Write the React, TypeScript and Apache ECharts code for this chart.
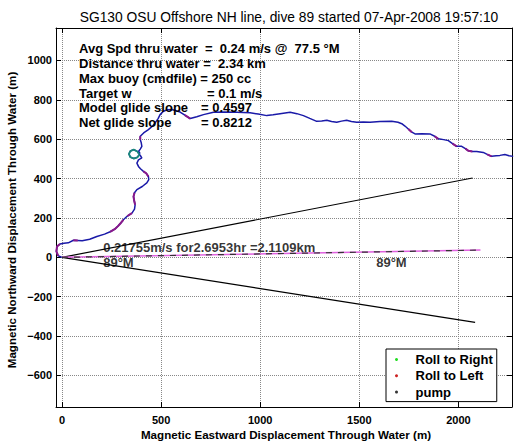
import React, { useEffect, useRef } from "react";
import * as echarts from "echarts";

const FONT = "'Liberation Sans', Arial, Helvetica, sans-serif";

const titleText = "SG130 OSU Offshore NH line, dive 89 started 07-Apr-2008 19:57:10";
const xAxisName = "Magnetic Eastward Displacement Through Water (m)";
const yAxisName = "Magnetic Northward Displacement Through Water (m)";

const xTicks = [0, 500, 1000, 1500, 2000];
const yTicks = [-600, -400, -200, 0, 200, 400, 600, 800, 1000];
const xRange = [-30, 2270];
const yRange = [-760, 1165];

// glider track (m east, m north)
const track: [number, number][] = [
  [0, 0], [-19, 8], [-28, 30], [-25, 55], [-10, 68], [10, 72], [32, 74], [58, 87], [80, 86], [102, 84],
  [140, 92], [176, 106], [215, 118], [243, 130], [266, 143], [284, 160], [298, 176], [310, 191], [330, 210],
  [353, 225], [366, 245], [369, 267], [364, 290], [361, 309], [366, 328], [378, 344], [405, 360], [428, 378],
  [438, 395], [436, 411], [425, 427], [411, 437], [396, 450], [386, 462], [378, 479], [386, 495], [403, 505],
  [396, 516], [391, 522], [380, 538], [362, 547], [345, 540], [338, 525], [345, 509], [362, 502], [380, 508],
  [391, 522], [392, 532], [386, 538], [395, 550], [403, 564], [400, 582], [395, 598], [395, 615], [412, 632],
  [436, 649], [455, 665], [470, 683], [485, 705], [495, 725], [512, 742], [532, 750], [554, 751], [576, 745],
  [596, 738], [620, 722], [647, 705], [680, 714], [714, 725], [764, 737], [820, 738], [882, 737], [949, 734],
  [990, 728], [1033, 720], [1065, 724], [1100, 730], [1151, 737], [1185, 730], [1218, 720], [1250, 706],
  [1285, 691], [1310, 693], [1336, 696], [1360, 690], [1386, 686], [1410, 692], [1436, 696], [1460, 690],
  [1487, 686], [1520, 688], [1554, 686], [1604, 690], [1663, 691], [1695, 686], [1714, 679], [1730, 667],
  [1747, 652], [1765, 636], [1781, 627], [1815, 628], [1856, 627], [1880, 615], [1898, 602], [1925, 598],
  [1949, 593], [1970, 578], [1991, 564], [2016, 564], [2035, 552], [2049, 542], [2070, 538], [2092, 538],
  [2125, 533], [2145, 523], [2167, 513], [2190, 516], [2209, 518], [2234, 522], [2255, 516], [2276, 513],
];

// portions of the track flown while rolled left
const rollLeftSegments: [number, number][][] = [
  [[-19, 8], [-28, 30], [-25, 55], [-10, 68]],
  [[58, 87], [80, 86]],
  [[243, 130], [266, 143], [284, 160], [298, 176], [310, 191]],
  [[330, 210], [353, 225]],
  [[369, 267], [364, 290], [361, 309], [366, 328]],
  [[436, 411], [425, 427], [411, 437]],
  [[395, 598], [395, 615]],
  [[620, 722], [647, 705]],
  [[1747, 652], [1765, 636]],
  [[1880, 615], [1898, 602]],
  [[1970, 578], [1991, 564]],
  [[2035, 552], [2049, 542], [2070, 538]],
  [[2145, 523], [2167, 513]],
];

// portion flown while rolled right (the small loop)
const rollRight: [number, number][] = [
  [391, 522], [380, 538], [362, 547], [345, 540], [338, 525], [345, 509], [362, 502], [380, 508], [391, 522],
];

const pumpPoints: [number, number][] = [];

// depth-averaged current vector and its +/- bounds
const currentLine: [number, number][] = [[0, 0], [2111, 37]];
const upperBound: [number, number][] = [[0, 0], [2071, 403]];
const lowerBound: [number, number][] = [[0, 0], [2084, -330]];

const annotations: { pos: [number, number]; text: string }[] = [
  { pos: [208, 48], text: "0.21755m/s for2.6953hr =2.1109km" },
  { pos: [208, -28], text: "89°M" },
  { pos: [1585, -28], text: "89°M" },
];

const infoLeft = [
  "Avg Spd thru water  =  0.24 m/s @  77.5 °M",
  "Distance thru water =  2.34 km",
  "Max buoy (cmdfile) = 250 cc",
  "Target w",
  "Model glide slope",
  "Net glide slope",
];
const infoRight = ["", "", "", "= 0.1 m/s", "= 0.4597", "= 0.8212"];
const infoRightX = [0, 0, 0, 207, 201, 201];

const legendNames = ["Roll to Right", "Roll to Left", "pump"];
const legendColors = ["#22dd22", "#cc2222", "#000000"];

function segmentsToData(segs: [number, number][][]) {
  const out: any[] = [];
  segs.forEach((s, i) => {
    if (i > 0) out.push("-");
    s.forEach((p) => out.push(p));
  });
  return out;
}

const minus = (v: number) => String(v).replace("-", "\u2212");

export default function App() {
  const ref = useRef<HTMLDivElement>(null);
  useEffect(() => {
    if (!ref.current) return;
    const chart = echarts.init(ref.current, undefined, { renderer: "svg" });
    const tickStyle = { color: "#000", fontFamily: FONT, fontWeight: "bold" as const, fontSize: 11 };
    const textStyle13 = { color: "#000", fontFamily: FONT, fontWeight: "bold" as const, fontSize: 13 };
    const gridLine = { show: true, lineStyle: { color: "#888", type: "dotted" as const, width: 1 } };
    const graphics: any[] = [];
    const lineY = [48.3, 63.2, 78.1, 93, 107.9, 122.8];
    infoLeft.forEach((t, i) => {
      graphics.push({
        type: "text", x: 79, y: lineY[i], z: 100,
        style: { text: t, fill: "#000", font: `bold 13px ${FONT}`, verticalAlign: "middle" },
      });
      if (infoRight[i]) {
        graphics.push({
          type: "text", x: infoRightX[i], y: lineY[i], z: 100,
          style: { text: infoRight[i], fill: "#000", font: `bold 13px ${FONT}`, verticalAlign: "middle" },
        });
      }
    });
    // axis titles
    graphics.push({
      type: "text", x: 286, y: 434, z: 100,
      style: { text: xAxisName, fill: "#000", font: `bold 11.6px ${FONT}`, align: "center", verticalAlign: "middle" },
    });
    graphics.push({
      type: "text", x: 11, y: 220, rotation: Math.PI / 2, z: 100,
      style: { text: yAxisName, fill: "#000", font: `bold 11.6px ${FONT}`, align: "center", verticalAlign: "middle" },
    });
    chart.setOption({
      animation: false,
      backgroundColor: "#fff",
      title: {
        text: titleText, left: 284, top: 5, textAlign: "center",
        textStyle: { fontFamily: FONT, fontSize: 13.8, fontWeight: "normal", color: "#000" },
      },
      grid: { left: 56, right: 10, top: 28, bottom: 35, containLabel: false, outerBoundsMode: "none" },
      legend: {
        orient: "vertical", left: 386, top: 349,
        padding: [4, 4, 3, 9], itemGap: 3.3, itemWidth: 28, itemHeight: 3,
        backgroundColor: "#fff", borderColor: "#000", borderWidth: 1, borderRadius: 0,
        textStyle: { ...textStyle13 },
        data: legendNames.map((n, i) => ({
          name: n, icon: "circle", itemStyle: { color: legendColors[i], borderWidth: 0 },
        })),
        selectedMode: false,
      },
      xAxis: [
        {
          type: "value", min: xRange[0], max: xRange[1], position: "bottom",
          axisLine: { show: true, onZero: false, lineStyle: { color: "#000" } },
          axisTick: { show: true, inside: true, length: 5, customValues: xTicks, lineStyle: { color: "#000" } },
          axisLabel: { ...tickStyle, margin: 6, padding: [1, 0, 0, 0], customValues: xTicks, formatter: minus },
          splitLine: gridLine,
        },
        {
          type: "value", min: xRange[0], max: xRange[1], position: "top",
          axisLine: { show: true, onZero: false, lineStyle: { color: "#000" } },
          axisTick: { show: true, inside: true, length: 5, customValues: xTicks, lineStyle: { color: "#000" } },
          axisLabel: { show: false }, splitLine: { show: false },
        },
      ],
      yAxis: [
        {
          type: "value", min: yRange[0], max: yRange[1], position: "left",
          axisLine: { show: true, onZero: false, lineStyle: { color: "#000" } },
          axisTick: { show: true, inside: true, length: 5, customValues: yTicks, lineStyle: { color: "#000" } },
          axisLabel: { ...tickStyle, margin: 4, customValues: yTicks, formatter: minus },
          splitLine: gridLine,
        },
        {
          type: "value", min: yRange[0], max: yRange[1], position: "right",
          axisLine: { show: true, onZero: false, lineStyle: { color: "#000" } },
          axisTick: { show: true, inside: true, length: 5, customValues: yTicks, lineStyle: { color: "#000" } },
          axisLabel: { show: false }, splitLine: { show: false },
        },
      ],
      graphic: graphics,
      series: [
        {
          name: "bound+", type: "line", data: upperBound, symbol: "none", silent: true,
          lineStyle: { color: "#000", width: 1.2 }, z: 2,
        },
        {
          name: "bound-", type: "line", data: lowerBound, symbol: "none", silent: true,
          lineStyle: { color: "#000", width: 1.2 }, z: 2,
        },
        {
          name: "current", type: "line", data: currentLine, symbol: "none", silent: true,
          lineStyle: { color: "#e060e0", width: 1.5 }, z: 2,
        },
        {
          name: "current dashed", type: "line", data: currentLine, symbol: "none", silent: true,
          lineStyle: { color: "#333", width: 1.2, type: [6, 6] }, z: 3,
        },
        {
          name: "track", type: "line", data: track, symbol: "none", silent: true, clip: true,
          lineStyle: { color: "#1a1aa8", width: 1.5 }, z: 4,
        },
        {
          name: "Roll to Left", type: "line", data: segmentsToData(rollLeftSegments), symbol: "none",
          connectNulls: false, silent: true, clip: true,
          lineStyle: { color: "#8a1a8a", width: 2 }, itemStyle: { color: legendColors[1] }, z: 5,
        },
        {
          name: "Roll to Right", type: "line", data: rollRight, symbol: "none", silent: true,
          lineStyle: { color: "#1a8a7a", width: 1.8 }, itemStyle: { color: legendColors[0] }, z: 5,
        },
        {
          name: "pump", type: "scatter", data: pumpPoints, symbolSize: 3,
          itemStyle: { color: legendColors[2] }, z: 6,
        },
        {
          name: "annotations", type: "scatter", symbolSize: 0, silent: true, z: 10,
          data: annotations.map((a) => ({
            value: a.pos,
            label: {
              show: true, formatter: a.text, position: [0, 0], align: "left", verticalAlign: "middle",
              ...textStyle13,
            },
          })),
        },
      ],
    });
    return () => chart.dispose();
  }, []);
  return (
    <div
      ref={ref}
      style={{ position: "fixed", left: 0, top: 0, width: 522, height: 442, background: "#fff" }}
    />
  );
}
